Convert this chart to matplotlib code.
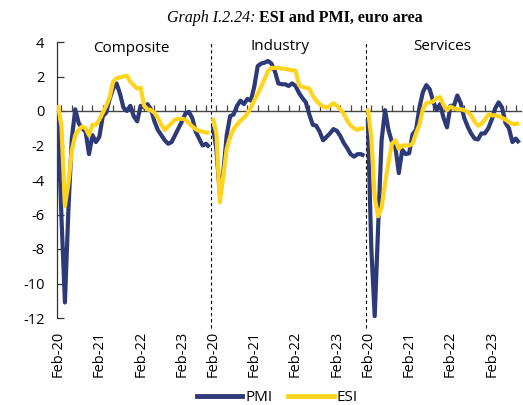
import numpy as np
import matplotlib
matplotlib.use('Agg')
import matplotlib.pyplot as plt
from matplotlib.lines import Line2D

plt.rcParams['font.family'] = ['Open Sans', 'DejaVu Sans']
plt.rcParams['axes.unicode_minus'] = False

# Standardised values, Feb-20 .. Oct-23 (45 months per panel)
panels = ['Composite', 'Industry', 'Services']
tick_labels = ['Feb-20', 'Feb-21', 'Feb-22', 'Feb-23']

composite_pmi = [-0.5, -6.2, -11.1, -5.8, -1.6, 0.1, -0.7, -1.0, -1.2, -2.5,
                 -1.4, -1.8, -1.5, -0.3, -0.1, 0.7, 1.3, 1.6, 1.0, 0.2,
                 0.0, 0.3, -0.3, -0.6, 0.3, 0.2, 0.4, 0.1, -0.6, -1.1,
                 -1.4, -1.7, -1.9, -1.8, -1.4, -1.0, -0.6, -0.15, -0.05, -0.4,
                 -1.2, -1.6, -2.0, -1.9, -2.1]
composite_esi = [0.35, -0.9, -5.5, -4.2, -2.3, -1.4, -1.1, -0.9, -1.0, -1.4,
                 -0.8, -0.8, -0.5, -0.1, 0.3, 0.8, 1.7, 1.9, 1.95, 2.0,
                 2.05, 1.7, 1.5, 1.3, 1.35, 0.3, 0.1, 0.05, -0.1, -0.4,
                 -0.8, -1.1, -0.9, -0.7, -0.5, -0.45, -0.45, -0.5, -0.7, -0.9,
                 -1.05, -1.15, -1.2, -1.25, -1.25]
industry_pmi = [-0.9, -2.2, -4.8, -3.6, -1.4, -0.3, -0.2, 0.3, 0.6, 0.4,
                0.7, 0.6, 1.4, 2.6, 2.75, 2.8, 2.9, 2.75, 2.3, 1.6,
                1.55, 1.55, 1.45, 1.6, 1.45, 1.05, 0.75, 0.5, -0.2, -0.8,
                -0.85, -1.2, -1.7, -1.5, -1.3, -1.05, -1.15, -1.45, -1.85, -2.15,
                -2.5, -2.65, -2.5, -2.5, -2.6]
industry_esi = [-0.4, -1.3, -5.3, -3.8, -2.2, -1.5, -1.05, -0.8, -0.55, -0.4,
                -0.15, 0.2, 0.6, 1.0, 1.4, 1.85, 2.3, 2.5, 2.5, 2.5,
                2.45, 2.45, 2.4, 2.35, 2.35, 1.5, 1.4, 1.35, 1.3, 0.9,
                0.6, 0.4, 0.25, 0.2, 0.3, 0.45, 0.3, 0.1, -0.15, -0.55,
                -0.85, -1.0, -1.1, -1.0, -1.05]
services_pmi = [-0.5, -7.9, -11.9, -6.7, -1.7, 0.05, -1.1, -1.8, -2.1, -3.6,
                -2.25, -2.5, -2.45, -1.35, -1.1, 0.2, 1.1, 1.5, 1.25, 0.55,
                0.05, 0.4, -0.4, -0.95, 0.3, 0.3, 0.9, 0.45, -0.4, -0.9,
                -1.3, -1.6, -1.65, -1.3, -1.3, -1.0, -0.5, 0.15, 0.5, 0.2,
                -0.7, -1.0, -1.8, -1.6, -1.85]
services_esi = [0.15, -1.5, -5.0, -6.1, -5.6, -4.2, -3.0, -1.9, -1.7, -2.2,
                -2.0, -2.0, -2.0, -1.9, -1.3, -0.8, 0.1, 0.45, 0.5, 0.55,
                0.75, 0.8, 0.35, 0.05, 0.25, 0.15, 0.1, 0.1, 0.05, -0.05,
                -0.25, -0.6, -0.85, -0.75, -0.5, -0.2, -0.25, -0.25, -0.3, -0.4,
                -0.5, -0.65, -0.75, -0.75, -0.72]

pmi_series = [composite_pmi, industry_pmi, services_pmi]
esi_series = [composite_esi, industry_esi, services_esi]

pmi_color = '#2E3A78'
esi_color = '#FFD41E'
n = len(composite_pmi)

fig = plt.figure(figsize=(5.23, 4.05), dpi=100)
ax = fig.add_axes([57 / 523, 1 - 318 / 405, 464 / 523, 276 / 405])

for k in range(3):
    x = np.arange(n) + k * n
    ax.plot(x, pmi_series[k], color=pmi_color, lw=3, solid_capstyle='butt', zorder=3)
    ax.plot(x, esi_series[k], color=esi_color, lw=3, solid_capstyle='butt', zorder=4)

# dashed separators between the panels
for k in (1, 2):
    ax.axvline(k * n - 0.5, ymin=-0.035, ymax=1.0, clip_on=False, color='black',
               lw=0.8, ls=(0, (3, 2.5)), zorder=1)

ax.set_xlim(-0.3, 3 * n - 0.5)
ax.set_ylim(-12, 4)
ax.set_yticks(range(-12, 5, 2))
ax.tick_params(axis='y', direction='in', length=5, width=0.9, color='#333333',
               labelsize=10.5, pad=9)

# horizontal axis sits on zero, small quarterly ticks pointing up
ax.spines['bottom'].set_position(('data', 0))
ax.spines['bottom'].set_color('#444444')
ax.spines['bottom'].set_linewidth(1.0)
ax.set_xticks(np.arange(1, 3 * n, 3))
ax.tick_params(axis='x', direction='in', length=4, width=0.9, color='#444444',
               labelbottom=False)
for s in ['top', 'right']:
    ax.spines[s].set_visible(False)
ax.spines['left'].set_color('#333333')
ax.spines['left'].set_linewidth(0.9)

# date labels at the bottom
sec = ax.secondary_xaxis(0)
pos = [k * n + m for k in range(3) for m in (0, 12, 24, 36)]
sec.set_xticks(pos, labels=tick_labels * 3, rotation=90)
sec.tick_params(length=0, pad=9, labelsize=10.5)
sec.spines['bottom'].set_visible(False)

# panel names
for k, name in enumerate(panels):
    fig.text([131, 280, 442][k] / 523, 1 - [48, 46, 46][k] / 405, name, fontsize=11,
             ha='center', va='center')

# title: italic part + bold part
fig.text(0.489, 0.955, 'Graph I.2.24:', family='Liberation Serif', style='italic',
         fontsize=11.5, ha='right', va='center')
fig.text(0.496, 0.955, 'ESI and PMI, euro area', family='Liberation Serif',
         weight='bold', fontsize=11.5, ha='left', va='center')

handles = [Line2D([], [], color=pmi_color, lw=3.5), Line2D([], [], color=esi_color, lw=3.5)]
fig.legend(handles, ['PMI', 'ESI'], loc='center', bbox_to_anchor=(0.53, 0.018), ncol=2,
           frameon=False, fontsize=11, handlelength=3.0, handletextpad=0.2,
           columnspacing=1.0, borderpad=0)

fig.savefig('out.png', dpi=100)
